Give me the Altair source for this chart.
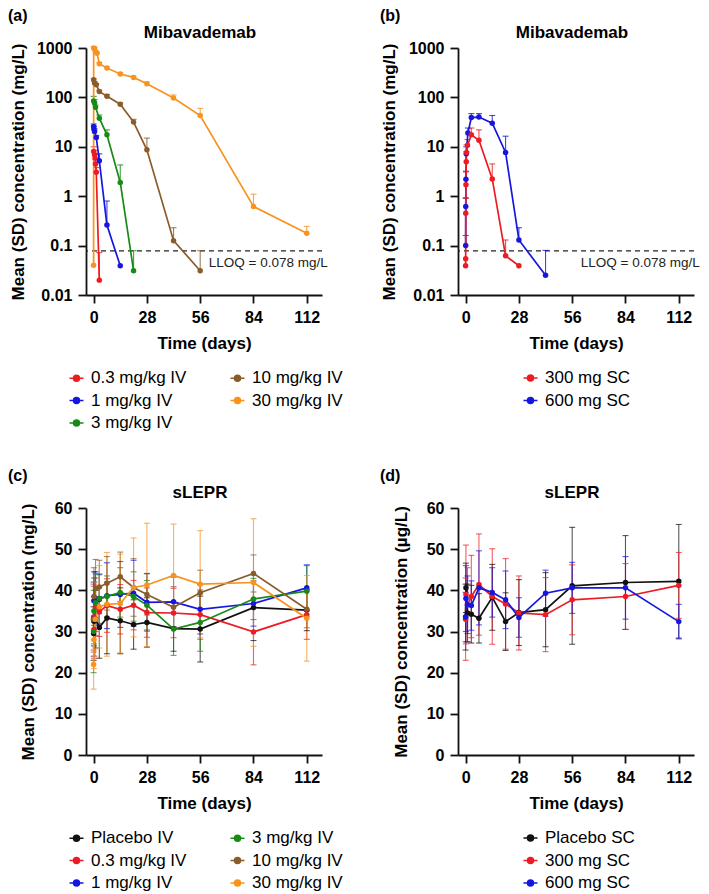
import altair as alt
import pandas as pd

FONT = "Liberation Sans"
W, H = 236, 247
X_TICKS = [0, 28, 56, 84, 112]
LOG_TICKS = [0.01, 0.1, 1, 10, 100, 1000]
LIN_TICKS = [0, 10, 20, 30, 40, 50, 60]
LLOQ = [0.078]
LLOQ_LABEL = ["LLOQ = 0.078 mg/L"]

# ---------------- (a) Mibavademab, IV cohorts (mean, upper SD end) -------------
A_GROUPS = ["0.3 mg/kg IV", "1 mg/kg IV", "3 mg/kg IV", "10 mg/kg IV", "30 mg/kg IV"]
A_COLORS = ["#ec1c24", "#1616e0", "#178a17", "#8a5c2a", "#f7931e"]
A_T_03 = [0.04, 0.5, 0.8, 1.0, 1.4, 3]
A_M_03 = [8.0, 6.9, 5.9, 4.5, 3.06, 0.020]
A_U_03 = [10.0, 8.5, 7.0, 5.5, 3.8, 0.072]
A_T_1 = [0.04, 0.17, 0.5, 1.4, 3, 7, 14]
A_M_1 = [25.8, 23.0, 20.5, 15.5, 5.2, 0.26, 0.039]
A_U_1 = [29, 26, 23, 17, 7.2, 0.80, None]
A_T_3 = [0.04, 0.5, 1.0, 3, 7, 14, 21]
A_M_3 = [85, 77, 63, 38, 17.5, 1.9, 0.031]
A_U_3 = [105, 90, 70, 44, 22, 4.3, 0.079]
A_T_10 = [0.04, 0.5, 1.4, 3, 7, 14, 21, 28, 42, 56]
A_M_10 = [228, 195, 180, 132, 105, 73, 31.6, 8.7, 0.126, 0.031]
A_U_10 = [240, 210, 190, 140, 115, 78, 36, 15, 0.23, 0.079]
A_T_30 = [0, 0.04, 0.5, 1.0, 1.8, 3, 7, 14, 21, 28, 42, 56, 84, 112]
A_M_30 = [0.04, 1000, 960, 840, 780, 480, 394, 297, 254, 189, 97, 43, 0.62, 0.178]
A_U_30 = [None, 1070, 1040, 900, 830, 510, 420, 320, 270, 205, 112, 60, 1.1, 0.245]

# ---------------- (b) Mibavademab, SC cohorts ---------------------------------
B_GROUPS = ["300 mg SC", "600 mg SC"]
B_COLORS = ["#ec1c24", "#1616e0"]
B_T_300 = [0, 0.04, 0.08, 0.17, 0.33, 0.5, 1, 3, 7, 14, 21, 28]
B_M_300 = [0.039, 0.054, 0.45, 1.7, 5.0, 7.7, 10.7, 17.5, 13.6, 2.24, 0.062, 0.039]
B_U_300 = [None, None, 0.9, 3.1, 8.0, 11, 14, 24, 22, 4.5, 0.13, None]
B_T_600 = [0.04, 0.08, 0.17, 0.33, 1.2, 3, 7, 14, 21, 28, 42]
B_M_600 = [0.10, 0.62, 2.2, 7.2, 19, 39, 40, 30, 7.7, 0.13, 0.025]
B_U_600 = [0.16, 0.93, 3.2, 10, 24, 47, 47, 43, 16.4, 0.23, 0.08]

# ---------------- (c) sLEPR, IV cohorts (mean, SD) ------------------------------
C_GROUPS = ["Placebo IV", "0.3 mg/kg IV", "1 mg/kg IV", "3 mg/kg IV", "10 mg/kg IV", "30 mg/kg IV"]
C_COLORS = ["#111111", "#ec1c24", "#1616e0", "#178a17", "#8a5c2a", "#f7931e"]
C_T = [0, 0.17, 1, 3, 7, 14, 21, 28, 42, 56, 84, 112]
C_M_PBO = [29.5, 32.5, 33.0, 31.0, 33.3, 32.6, 31.7, 32.2, 30.7, 30.6, 35.8, 35.2]
C_S_PBO = [6.5, 6.0, 7.0, 7.5, 8.7, 8.0, 6.0, 6.0, 5.5, 8.0, 8.0, 5.0]
C_M_03 = [33.5, 30.5, 36.0, 34.8, 36.3, 35.4, 36.4, 34.6, 34.5, 34.1, 29.9, 34.1]
C_S_03 = [8.0, 7.0, 7.0, 6.0, 6.5, 6.0, 6.0, 6.0, 6.0, 6.0, 8.0, 6.0]
C_M_1 = [33.0, 37.5, 38.0, 37.8, 38.7, 39.0, 39.3, 37.1, 37.2, 35.4, 36.8, 40.6]
C_S_1 = [9.0, 7.0, 6.5, 6.0, 8.0, 8.0, 8.0, 7.0, 6.0, 6.0, 5.5, 5.6]
C_M_3 = [30.0, 35.0, 37.0, 38.0, 38.5, 39.5, 38.5, 36.4, 30.6, 32.2, 37.9, 39.8]
C_S_3 = [10.0, 8.0, 7.0, 6.0, 5.0, 6.0, 6.0, 6.0, 6.4, 7.0, 5.0, 6.2]
C_M_10 = [33.0, 38.5, 40.5, 40.8, 41.7, 43.3, 40.7, 39.0, 35.9, 39.4, 44.1, 35.4]
C_S_10 = [8.0, 7.0, 7.0, 6.5, 6.5, 6.0, 7.0, 5.0, 5.0, 5.5, 4.5, 4.5]
C_M_30 = [22.0, 28.0, 33.0, 36.0, 36.6, 36.8, 40.7, 41.3, 43.6, 41.5, 41.9, 33.2]
C_S_30 = [6.0, 7.0, 9.0, 10.0, 12.6, 12.0, 12.0, 15.0, 12.5, 13.0, 15.5, 10.4]

# ---------------- (d) sLEPR, SC cohorts (mean, SD) ------------------------------
D_GROUPS = ["Placebo SC", "300 mg SC", "600 mg SC"]
D_COLORS = ["#111111", "#ec1c24", "#1616e0"]
D_T = [0, 0.17, 1, 3, 7, 14, 21, 28, 42, 56, 84, 112]
D_M_PBO = [33.5, 40.6, 34.5, 34.2, 33.2, 38.3, 32.4, 34.6, 35.3, 41.1, 41.9, 42.2]
D_S_PBO = [8.0, 6.0, 7.0, 7.0, 6.0, 8.0, 7.0, 8.0, 9.0, 14.2, 11.4, 13.8]
D_M_300 = [33.0, 39.0, 36.5, 38.5, 41.4, 38.5, 36.7, 34.5, 34.1, 37.7, 38.5, 41.2]
D_S_300 = [10.0, 12.0, 9.0, 10.0, 12.3, 11.6, 11.0, 9.0, 9.0, 8.5, 8.0, 8.0]
D_M_600 = [33.5, 38.0, 36.5, 36.3, 40.6, 39.5, 37.7, 33.4, 39.3, 40.6, 40.6, 32.4]
D_S_600 = [6.0, 8.0, 7.0, 6.0, 9.0, 6.0, 7.0, 4.8, 5.6, 6.2, 7.6, 4.2]

SYMBOL = "M-1,0H1M0.42,0A0.42,0.42,0,1,1,-0.42,0A0.42,0.42,0,1,1,0.42,0Z"


def frame(series, mode):
    rows = []
    for name, ts, ms, es in series:
        for t, m, e in zip(ts, ms, es):
            if mode == "upper":
                lo, hi = (m, e) if e is not None else (None, None)
            else:
                lo, hi = m - e, m + e
            rows.append({"group": name, "t": t, "mean": m, "lo": lo, "hi": hi})
    return pd.DataFrame(rows)


def panel(df, groups, colors, log, title, letter, ytitle, cols, lx, ytx):
    color = alt.Color(
        "group:N",
        scale=alt.Scale(domain=groups, range=colors),
        legend=alt.Legend(title=None, orient="none", legendX=lx, legendY=321.5, columns=cols,
                          symbolType=SYMBOL),
    )
    xscale = alt.Scale(domain=[-4, 120], nice=False, zero=False)
    xaxis = alt.Axis(values=X_TICKS, title="Time (days)")
    x = alt.X("t:Q", scale=xscale, axis=xaxis)
    if log:
        yscale = alt.Scale(type="log", domain=[0.01, 1000], nice=False)
        yaxis = alt.Axis(values=LOG_TICKS, format="~g", title=ytitle, titleX=ytx,
                         titleBaseline="alphabetic")
    else:
        yscale = alt.Scale(domain=[0, 60], nice=False, zero=True)
        yaxis = alt.Axis(values=LIN_TICKS, title=ytitle, titleX=ytx, titleBaseline="alphabetic")

    def Y(f):
        return alt.Y(f"{f}:Q", scale=yscale, axis=yaxis)

    err = df.dropna(subset=["hi"])
    layers = []
    if log:
        layers.append(alt.Chart(pd.DataFrame({"v": LLOQ})).mark_rule(
            strokeDash=[5, 4], strokeWidth=1.3, color="#222").encode(y=Y("v")))
        layers.append(alt.Chart(pd.DataFrame({"label": LLOQ_LABEL})).mark_text(
            align="left", baseline="middle", fontSize=13.5, font=FONT, color="#222").encode(
            x=alt.X(datum=60.5, scale=xscale, axis=xaxis),
            y=alt.Y(datum=0.044, scale=yscale, axis=yaxis), text="label:N"))
    op = 0.8 if log else 0.7
    layers.append(alt.Chart(err).mark_rule(strokeWidth=1.1, opacity=op).encode(
        x=x, y=Y("lo"), y2="hi:Q", color=color))
    layers.append(alt.Chart(err).mark_tick(orient="horizontal", size=6, thickness=1.1,
                                           opacity=op).encode(x=x, y=Y("hi"), color=color))
    if not log:
        layers.append(alt.Chart(err).mark_tick(orient="horizontal", size=6, thickness=1.1,
                                               opacity=op).encode(x=x, y=Y("lo"), color=color))
    layers.append(alt.Chart(df).mark_line(strokeWidth=1.7).encode(
        x=x, y=Y("mean"), color=color, order="t:Q"))
    layers.append(alt.Chart(df).mark_circle(size=30, opacity=1).encode(
        x=x, y=Y("mean"), color=color))
    layers.append(alt.Chart(pd.DataFrame({"label": [title]})).mark_text(
        align="center", baseline="alphabetic", fontSize=17, fontWeight="bold", font=FONT,
        color="#000").encode(x=alt.value(114), y=alt.value(-10), text="label:N"))
    layers.append(alt.Chart(pd.DataFrame({"label": [letter]})).mark_text(
        align="left", baseline="alphabetic", fontSize=16, fontWeight="bold", font=FONT,
        color="#000").encode(x=alt.value(-78), y=alt.value(-27), text="label:N"))
    return alt.layer(*layers).properties(width=W, height=H)


dfa = frame([(A_GROUPS[0], A_T_03, A_M_03, A_U_03), (A_GROUPS[1], A_T_1, A_M_1, A_U_1),
             (A_GROUPS[2], A_T_3, A_M_3, A_U_3), (A_GROUPS[3], A_T_10, A_M_10, A_U_10),
             (A_GROUPS[4], A_T_30, A_M_30, A_U_30)], "upper")
dfb = frame([(B_GROUPS[1], B_T_600, B_M_600, B_U_600),
             (B_GROUPS[0], B_T_300, B_M_300, B_U_300)], "upper")
dfc = frame([(C_GROUPS[0], C_T, C_M_PBO, C_S_PBO), (C_GROUPS[1], C_T, C_M_03, C_S_03),
             (C_GROUPS[2], C_T, C_M_1, C_S_1), (C_GROUPS[3], C_T, C_M_3, C_S_3),
             (C_GROUPS[4], C_T, C_M_10, C_S_10), (C_GROUPS[5], C_T, C_M_30, C_S_30)], "sd")
dfd = frame([(D_GROUPS[0], D_T, D_M_PBO, D_S_PBO), (D_GROUPS[1], D_T, D_M_300, D_S_300),
             (D_GROUPS[2], D_T, D_M_600, D_S_600)], "sd")

pa = panel(dfa, A_GROUPS, A_COLORS, True, "Mibavademab", "(a)",
           "Mean (SD) concentration (mg/L)", 2, -18, -63)
pb = panel(dfb, B_GROUPS, B_COLORS, True, "Mibavademab", "(b)",
           "Mean (SD) concentration (mg/L)", 1, 64, -64)
pc = panel(dfc, C_GROUPS, C_COLORS, False, "sLEPR", "(c)",
           "Mean (SD) concentration (mg/L)", 2, -18, -53)
pd_ = panel(dfd, D_GROUPS, D_COLORS, False, "sLEPR", "(d)",
            "Mean (SD) concentration (µg/L)", 1, 64, -52)

chart = alt.concat(pa, pb, pc, pd_, columns=2, spacing={"row": 213, "column": 136},
                   bounds="flush").resolve_scale(
    x="independent", y="independent", color="independent").resolve_legend(
    color="independent").properties(padding=0, background="white").configure(
    font=FONT).configure_view(stroke=None).configure_axis(
    domainColor="#111", domainWidth=1.8, tickColor="#111", tickWidth=1.8, tickSize=8,
    labelFont=FONT, labelFontSize=16, labelFontWeight="bold", labelColor="#000",
    labelPadding=6, titleFont=FONT, titleFontSize=17, titleFontWeight="bold",
    titleColor="#000", grid=False).configure_axisX(titlePadding=10).configure_legend(
    labelFont=FONT, labelFontSize=17, labelColor="#000", symbolSize=196,
    symbolStrokeWidth=1.6, labelOffset=6, rowPadding=4.5, columnPadding=40, padding=0,
    symbolOpacity=1, labelLimit=300)

chart.save("out.html", embed_options={"renderer": "svg", "actions": False})
